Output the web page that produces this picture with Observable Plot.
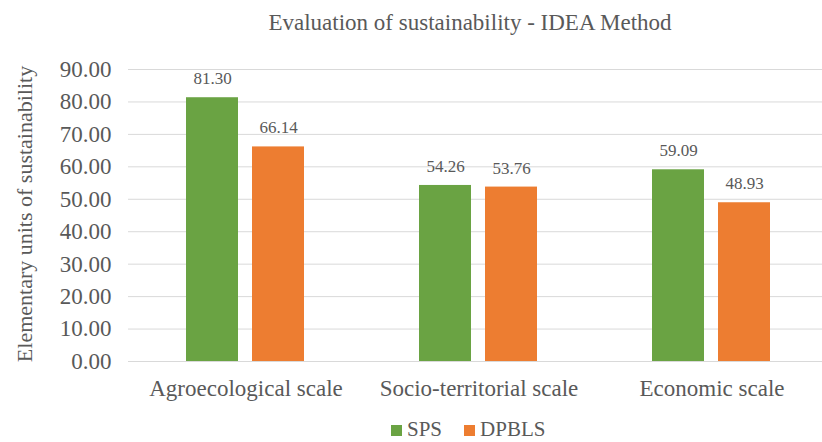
<!DOCTYPE html>
<html>
<head>
<meta charset="utf-8">
<script src="https://cdn.jsdelivr.net/npm/d3@7"></script>
<script src="https://cdn.jsdelivr.net/npm/@observablehq/plot@0.6"></script>
<style>
  html, body { margin: 0; padding: 0; background: #fff; }
  #wrap { position: relative; width: 822px; height: 442px; font-family: "Liberation Serif", "DejaVu Serif", serif; color: #595959; overflow: hidden; }
  #wrap svg { position: absolute; left: 0; top: 0; }
  .title { position: absolute; left: 470px; top: 10px; transform: translateX(-50%); white-space: nowrap; font-size: 23px; line-height: 26px; }
  .ylabel { position: absolute; left: 25px; top: 214px; transform: translate(-50%, -50%) rotate(-90deg); white-space: nowrap; font-size: 22px; line-height: 24px; }
  .legend { position: absolute; left: 391px; top: 420px; display: flex; align-items: center; font-size: 21px; line-height: 18px; white-space: nowrap; }
  .legend .sw { display: inline-block; width: 11px; height: 11px; margin-right: 5px; margin-top: 3px; }
  .legend .item { display: flex; align-items: center; margin-right: 22px; }
</style>
</head>
<body>
<div id="wrap"></div>
<script>
const chartTitle = "Evaluation of sustainability - IDEA Method";
const yLabel = "Elementary units of sustainability";
const categories = ["Agroecological scale", "Socio-territorial scale", "Economic scale"];
const seriesNames = ["SPS", "DPBLS"];
const seriesColors = ["#6AA343", "#ED7D31"];
const spsValues = [81.30, 54.26, 59.09];
const dpblsValues = [66.14, 53.76, 48.93];
const yTicks = [0, 10, 20, 30, 40, 50, 60, 70, 80, 90];

const rows = [];
categories.forEach((c, i) => {
  rows.push({category: c, series: "SPS", value: spsValues[i]});
  rows.push({category: c, series: "DPBLS", value: dpblsValues[i]});
});

const wrap = document.getElementById("wrap");
const serif = "'Liberation Serif', 'DejaVu Serif', serif";

const common = {
  width: 822,
  height: 442,
  marginTop: 69,
  marginBottom: 81,
  marginLeft: 128,
  marginRight: 0,
  style: { fontFamily: serif, color: "#595959", background: "transparent", overflow: "visible" },
  y: { domain: [0, 90], axis: null }
};

// Background layer: gridlines and y tick labels
const grid = Plot.plot({
  ...common,
  x: { axis: null },
  marks: [
    Plot.ruleY(yTicks, { y: d => d, stroke: "#D9D9D9", strokeWidth: 1 }),
    Plot.text(yTicks, { y: d => d, text: d => d.toFixed(2), frameAnchor: "left", textAnchor: "end", dx: -17, fontSize: 23, fill: "#595959", fontFamily: serif })
  ]
});
wrap.appendChild(grid);

// Foreground layer: grouped bars
const bars = Plot.plot({
  ...common,
  fx: { domain: categories, range: [128, 828], paddingInner: 0.49, paddingOuter: 0.245, label: null, axis: null },
  x: { domain: seriesNames, paddingInner: 0.21, paddingOuter: 0, axis: null },
  color: { domain: seriesNames, range: seriesColors },
  marks: [
    Plot.barY(rows, { fx: "category", x: "series", y: "value", fill: "series" }),
    Plot.text(rows, { fx: "category", x: "series", y: "value", text: d => d.value.toFixed(2), dy: -19, fontSize: 17, fill: "#595959", fontFamily: serif }),
    Plot.axisFx({ anchor: "bottom", tickSize: 0, tickPadding: 18, fontSize: 23, label: null, fill: "#595959", fontFamily: serif })
  ]
});
wrap.appendChild(bars);

const t = document.createElement("div");
t.className = "title";
t.textContent = chartTitle;
wrap.appendChild(t);

const yl = document.createElement("div");
yl.className = "ylabel";
yl.textContent = yLabel;
wrap.appendChild(yl);

const lg = document.createElement("div");
lg.className = "legend";
seriesNames.forEach((s, i) => {
  const it = document.createElement("span");
  it.className = "item";
  const sw = document.createElement("span");
  sw.className = "sw";
  sw.style.background = seriesColors[i];
  const lb = document.createElement("span");
  lb.textContent = s;
  it.appendChild(sw);
  it.appendChild(lb);
  lg.appendChild(it);
});
wrap.appendChild(lg);
</script>
</body>
</html>
